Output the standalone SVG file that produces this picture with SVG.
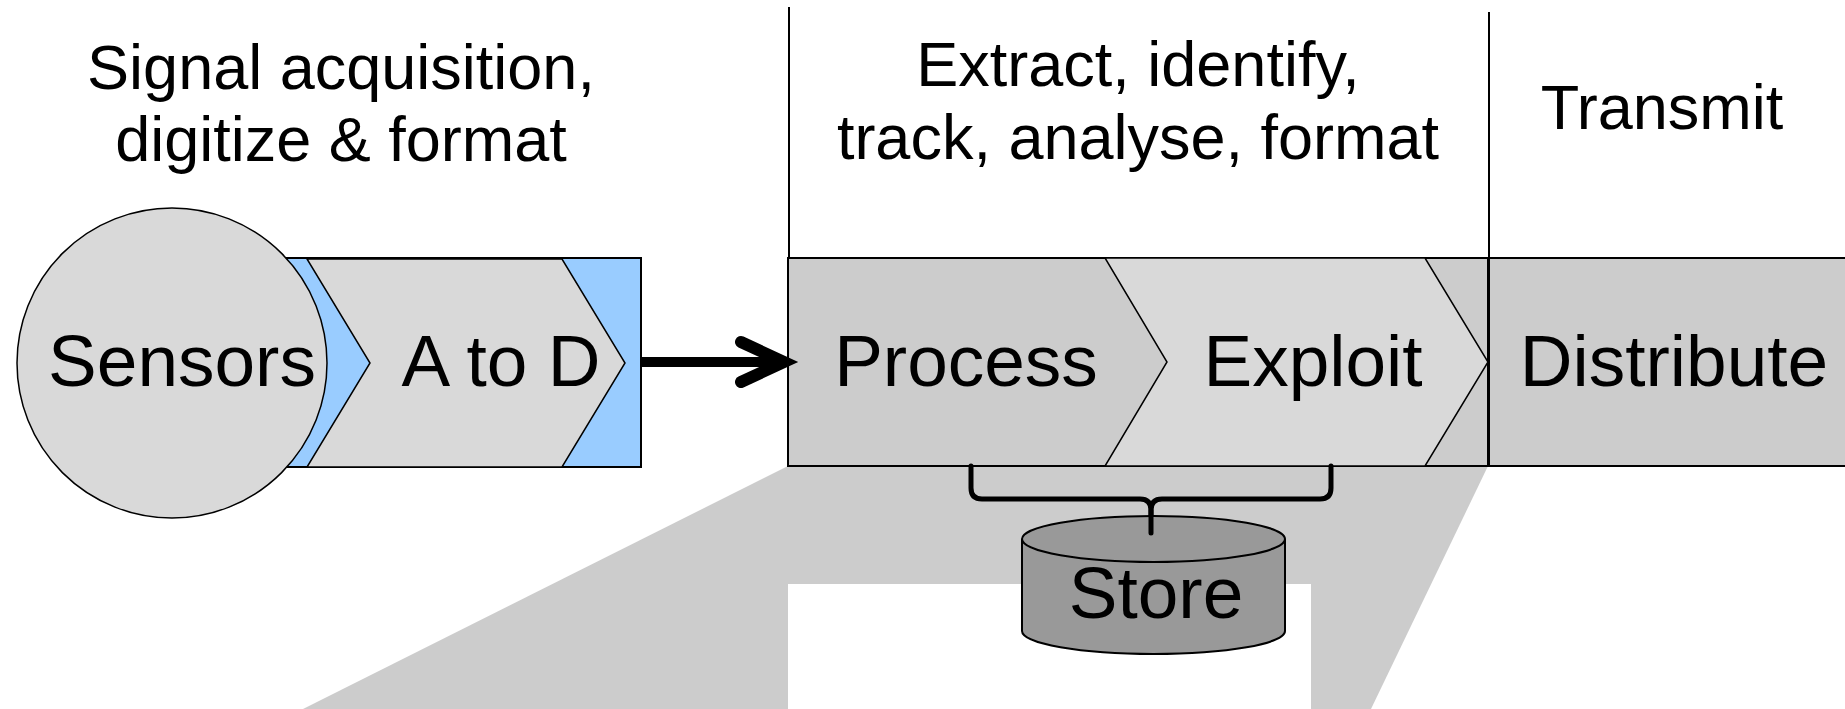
<svg xmlns="http://www.w3.org/2000/svg" width="1845" height="709" viewBox="0 0 1845 709">
<style>
text{font-family:"Liberation Sans",Arial,sans-serif;fill:#000;text-anchor:middle}
.big{font-size:73px}
.head{font-size:63px}
.ln{stroke:#000;stroke-width:2}
.chev{stroke:#000;stroke-width:1.5}
</style>
<rect width="1845" height="709" fill="#fff"/>
<g id="callout">
<polygon points="788,466 1488,466 1371,709 303,709" fill="#cccccc"/>
<rect x="788" y="584" width="523" height="125" fill="#fff"/>
</g>
<g id="headings">
<text class="head" x="341" y="89">Signal acquisition,</text>
<text class="head" x="341" y="161">digitize &amp; format</text>
<text class="head" x="1138" y="86">Extract, identify,</text>
<text class="head" x="1138" y="159">track, analyse, format</text>
<text class="head" x="1662" y="129">Transmit</text>
<line class="ln" x1="789" y1="7" x2="789" y2="258"/>
<line class="ln" x1="1489" y1="12" x2="1489" y2="258"/>
</g>
<g id="atod">
<rect x="287" y="258" width="354" height="209" fill="#99ccff" class="ln"/>
<polygon class="chev" points="307,259 562,259 625,363 562,467 307,467 370,363" fill="#d9d9d9"/>
<text class="big" x="501" y="386">A to D</text>
</g>
<g id="sensors">
<circle cx="172" cy="363" r="155" fill="#d9d9d9" stroke="#000" stroke-width="1.5"/>
<text class="big" x="182" y="386">Sensors</text>
</g>
<g id="process">
<rect x="788" y="258" width="700" height="208" fill="#cccccc" class="ln"/>
<text class="big" x="966" y="386">Process</text>
</g>
<g id="exploit">
<polygon class="chev" points="1105,258 1425,258 1488,362 1425,466 1105,466 1167,362" fill="#d9d9d9"/>
<text class="big" x="1313" y="386">Exploit</text>
</g>
<g id="distribute">
<rect x="1489" y="258" width="370" height="208" fill="#cccccc" class="ln"/>
<text class="big" x="1674" y="386">Distribute</text>
</g>
<g id="connectors">
<line x1="641" y1="362" x2="778" y2="362" stroke="#000" stroke-width="10"/>
<polyline points="741,342 784,362 741,382" fill="none" stroke="#000" stroke-width="12" stroke-linecap="round" stroke-linejoin="miter"/>
<path d="M971,466 L971,488 Q971,499 982,499 L1140,499 Q1151,499 1151,510 L1151,533 M1151,510 Q1151,499 1162,499 L1320,499 Q1331,499 1331,488 L1331,466" fill="none" stroke="#000" stroke-width="5" stroke-linecap="round" stroke-linejoin="round"/>
</g>
<g id="store">
<path d="M1022,539 L1022,631 A131.5,23 0 0 0 1285,631 L1285,539" fill="#999999" stroke="#000" stroke-width="2"/>
<ellipse cx="1153.5" cy="539" rx="131.5" ry="23" fill="#999999" stroke="#000" stroke-width="2"/>
<line x1="1151" y1="510" x2="1151" y2="533" stroke="#000" stroke-width="5" stroke-linecap="round"/>
<text class="big" x="1156" y="618">Store</text>
</g>
</svg>
